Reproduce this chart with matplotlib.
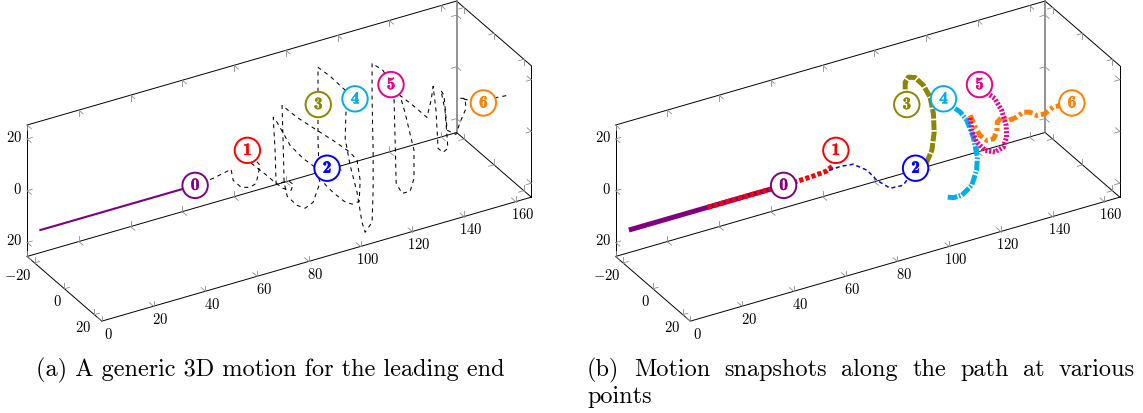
import numpy as np
import matplotlib.pyplot as plt
import matplotlib.patheffects as pe
from mpl_toolkits.mplot3d import proj3d

plt.rcParams['mathtext.fontset'] = 'cm'
plt.rcParams['lines.scale_dashes'] = False

W, H = 1143, 413

# axis box
x_lim = (0, 166)
y_lim = (-25, 25)
z_lim = (-25.4, 25.4)
x_ticks = [0, 20, 40, 60, 80, 100, 120, 140, 160]
y_ticks = [-20, 0, 20]
z_ticks = [-20, 0, 20]
x_tick_labels = ['0', '20', '40', '60', '80', '100', '120', '140', '160']
y_tick_labels = [r'$-20$', r'$0$', r'$20$']
z_tick_labels = [r'$20$', r'$0$', r'$20$']  # the minus is not printed in the original

# straight approach of the leading end (y = z = 0)
approach_x = [-9.3, 50.5]

# generic motion of the leading end (dashed), read in the y = 0 plane
path_x = [50.5, 57.5, 64.4, 65.2, 68.3, 71.8, 74.1, 75.6, 70.6, 72.2, 76.8, 81.4,
          84.5, 87.6, 88.4, 86.8, 81.8, 81.4, 80.7, 82.2, 87.2, 92.2, 96.9, 98.8,
          96.1, 93.0, 89.9, 86.1, 84.9, 84.5, 84.1, 89.9, 97.6, 103.8, 110.4, 113.1,
          114.3, 113.9, 111.2, 108.1, 103.8, 100.7, 98.4, 98.0, 98.0, 98.0, 102.7,
          107.7, 112.3, 108.8, 108.5, 110.4, 113.1, 115.0, 116.2, 118.9, 119.3, 119.3,
          118.9, 118.9, 123.1, 126.2, 127.4, 127.8, 128.2, 130.5, 133.6, 135.1, 135.1,
          131.6, 129.7, 134.7, 140.1, 141.7, 142.5, 143.6, 144.4, 146.3, 148.2, 147.1,
          145.5, 146.7, 147.9, 151.3, 152.9, 155.2, 154.8, 152.9, 161.8, 167.2, 171.4]
path_z = [0.0, 0.7, 2.2, -2.3, -5.9, -6.9, -6.0, 0.5, 7.7, 2.3, -2.6, -7.8,
          -11.0, -12.6, -10.5, -8.9, -8.3, 4.6, 17.6, 15.2, 4.9, -1.6, -6.4, -12.8,
          -19.7, -21.1, -19.1, -14.5, -8.8, 7.6, 21.2, 14.9, 7.7, 2.0, -4.5, -8.4,
          -16.5, -24.5, -24.8, -22.8, -18.1, -14.1, -8.0, 3.7, 17.6, 31.9, 27.1,
          21.0, 15.8, 11.4, 1.4, -9.5, -20.8, -32.9, -37.1, -34.0, -21.8, -6.3,
          13.1, 27.4, 23.5, 17.2, 10.7, -4.9, -21.6, -26.2, -26.3, -21.7, -10.9,
          4.8, 11.9, 6.6, 0.4, 6.5, 11.7, 2.1, -12.8, -14.9, -13.9, 1.1,
          9.3, 7.0, -6.8, -9.4, -5.2, -0.5, 3.5, 4.1, -0.4, 0.3, -0.1]

# labelled points 0..6
pt_names = ['0', '1', '2', '3', '4', '5', '6']
pt_x = [50.5, 70.7, 101.5, 98.1, 112.3, 126.2, 161.9]
pt_z = [0.0, 7.7, -8.1, 17.5, 15.6, 17.1, -0.3]
pt_colors = ['#800080', '#ff0000', '#0000ff', '#8c8700', '#00aeef', '#ec008c', '#ff8000']

# snapshots along the path (panel b)
red_x = [21.0, 50.5, 56.9, 62.7, 66.9, 69.3]
red_z = [0.0, 0.0, 0.1, 0.35, 0.7, 1.9]
blue_x = [68.1, 72.5, 77.4, 82.8, 86.6, 91.7, 96.7, 98.6, 101.6]
blue_z = [0.7, 1.0, 0.4, -3.5, -8.5, -13.0, -13.3, -11.2, -7.9]
olive_x = [101.6, 105.8, 107.8, 108.7, 108.4, 107.1, 104.5, 101.3, 98.7, 97.5, 97.5, 98.1]
olive_z = [-7.9, -7.0, -3.0, 3.8, 11.0, 17.8, 23.1, 27.0, 27.9, 26.3, 23.1, 18.1]
cyan_x = [112.2, 116.1, 118.7, 121.3, 123.8, 125.4, 125.1, 123.2, 119.4, 116.1, 113.3]
cyan_z = [15.3, 11.3, 8.7, 4.7, -2.5, -10.7, -15.7, -21.0, -23.7, -23.7, -22.6]
magenta_x = [126.1, 129.6, 132.2, 134.8, 136.5, 136.7, 135.4, 132.2, 128.4, 125.1, 123.2, 122.6]
magenta_z = [17.2, 12.6, 9.9, 4.6, -1.6, -6.2, -9.7, -10.7, -9.0, -4.8, 0.3, 5.6]
orange_x = [122.6, 124.5, 126.4, 129.0, 131.6, 132.9, 133.1, 134.8, 137.4, 140.6, 143.1,
            145.7, 148.3, 151.5, 154.7, 161.9]
orange_z = [6.3, 1.2, -2.6, -5.3, -5.4, -3.2, 0.6, 2.0, 0.0, 0.4, 1.6, 0.8, -1.2, -1.5, 0.2, -0.3]

fig = plt.figure(figsize=(W / 100, H / 100), dpi=100)


def make_axes(rect):
    ax = fig.add_axes(rect, projection='3d', proj_type='ortho')
    ax.set_xlim(*x_lim)
    ax.set_ylim(y_lim[1], y_lim[0])
    ax.set_zlim(*z_lim)
    ax.set_box_aspect((x_lim[1] - x_lim[0], y_lim[1] - y_lim[0], z_lim[1] - z_lim[0]))
    ax.view_init(elev=30, azim=-120)
    ax.set_axis_off()
    ax.patch.set_alpha(0)
    return ax


def draw_frame(ax):
    x0, x1 = x_lim
    y0, y1 = y_lim
    z0, z1 = z_lim
    edges = [((x0, x1), (y0, y0), (z0, z0)), ((x0, x1), (y0, y0), (z1, z1)),
             ((x0, x1), (y1, y1), (z0, z0)), ((x0, x0), (y0, y0), (z0, z1)),
             ((x0, x0), (y0, y1), (z0, z0)), ((x1, x1), (y0, y1), (z0, z0)),
             ((x1, x1), (y0, y1), (z1, z1)), ((x1, x1), (y1, y1), (z0, z1))]
    for xs, ys, zs in edges:
        ax.plot(xs, ys, zs, color='black', lw=0.7)
    ax.plot((x1, x1), (y0, y0), (z0, z1), color='0.5', lw=1.2)

    arm = {'x': 2.0, 'y': 2.8, 'z': 2.1}

    def chevrons(axis, ticks, fixed, dirs):
        for t in ticks:
            p = dict(fixed)
            p[axis] = t
            for d, s in dirs:
                q = dict(p)
                q[d] = p[d] + s * arm[d]
                ax.plot([p['x'], q['x']], [p['y'], q['y']], [p['z'], q['z']],
                        color='0.55', lw=0.6)

    chevrons('x', x_ticks, {'y': y0, 'z': z0}, [('y', 1), ('z', 1)])
    chevrons('x', x_ticks, {'y': y0, 'z': z1}, [('y', 1), ('z', -1)])
    chevrons('x', x_ticks, {'y': y1, 'z': z0}, [('y', -1), ('z', 1)])
    chevrons('y', y_ticks, {'x': x0, 'z': z0}, [('x', 1), ('z', 1)])
    chevrons('y', y_ticks, {'x': x1, 'z': z0}, [('x', -1), ('z', 1)])
    chevrons('y', y_ticks, {'x': x1, 'z': z1}, [('x', -1), ('z', -1)])
    chevrons('z', z_ticks, {'x': x0, 'y': y0}, [('x', 1), ('y', 1)])
    chevrons('z', z_ticks, {'x': x1, 'y': y0}, [('x', -1), ('y', 1)])
    chevrons('z', z_ticks, {'x': x1, 'y': y1}, [('x', -1), ('y', -1)])


ax_a = make_axes([0.0, 0.0, 0.5, 1.0])
ax_b = make_axes([0.5, 0.0, 0.5, 1.0])

# (a) generic motion
draw_frame(ax_a)
ax_a.plot(approach_x, [0, 0], [0, 0], color='#800080', lw=1.5)
ax_a.plot(path_x, np.zeros(len(path_x)), path_z, color='black', lw=0.75, dashes=(2.9, 2.9))

# (b) snapshots
draw_frame(ax_b)
ax_b.plot(approach_x, [0, 0], [0, 0], color='#800080', lw=3.6, solid_capstyle='butt')
ax_b.plot(red_x, np.zeros(len(red_x)), red_z, color='#ff0000', lw=3.6, dashes=(3.0, 1.6))
ax_b.plot(blue_x, np.zeros(len(blue_x)), blue_z, color='#0000ff', lw=1.1, dashes=(2.9, 2.2))
ax_b.plot(olive_x, np.zeros(len(olive_x)), olive_z, color=pt_colors[3], lw=3.6, dashes=(7, 1.2))
ax_b.plot(cyan_x, np.zeros(len(cyan_x)), cyan_z, color=pt_colors[4], lw=3.6,
          dashes=(7, 1.2, 1.2, 1.2))
ax_b.plot(orange_x, np.zeros(len(orange_x)), orange_z, color=pt_colors[6], lw=3.6,
          dashes=(6, 2.2, 2.2, 2.2))
ax_b.plot(magenta_x, np.zeros(len(magenta_x)), magenta_z, color=pt_colors[5], lw=3.6,
          dashes=(1.5, 1.2))

# place each box so that its corners land where they are in the original
fig.canvas.draw()


def fit_axes(ax, dx):
    corners = np.array([[x_lim[0], y_lim[0], z_lim[0]], [x_lim[1], y_lim[0], z_lim[1]],
                        [x_lim[1], y_lim[1], z_lim[0]], [x_lim[0], y_lim[1], z_lim[0]]])
    target = np.array([[26.7, 255.7], [456.7, 1.7], [531.7, 197.7], [101.7, 320.7]])
    target[:, 0] += dx
    target[:, 1] = H - target[:, 1]
    xs, ys, _ = proj3d.proj_transform(corners[:, 0], corners[:, 1], corners[:, 2], ax.get_proj())
    disp = ax.transData.transform(np.column_stack([xs, ys]))
    bb = ax.get_position().transformed(fig.transFigure)
    g = (disp - [bb.x0, bb.y0]) / bb.width
    A = np.zeros((8, 3))
    b = np.zeros(8)
    A[0::2, 0] = 1
    A[0::2, 2] = g[:, 0]
    b[0::2] = target[:, 0]
    A[1::2, 1] = 1
    A[1::2, 2] = g[:, 1]
    b[1::2] = target[:, 1]
    (x0, y0, L), *_ = np.linalg.lstsq(A, b, rcond=None)
    ax.set_position([x0 / W, y0 / H, L / W, L / H])


fit_axes(ax_a, 0)
fit_axes(ax_b, 588.5)
fig.canvas.draw()


def to_fig(ax, x, y, z):
    """3D data point -> figure fraction, through the axes' own projection."""
    xs, ys, _ = proj3d.proj_transform(np.atleast_1d(np.asarray(x, float)),
                                      np.atleast_1d(np.asarray(y, float)),
                                      np.atleast_1d(np.asarray(z, float)), ax.get_proj())
    d = ax.transData.transform(np.column_stack([xs, ys]))
    return d[:, 0] / W, d[:, 1] / H


def draw_texts(ax):
    n = len(x_ticks)
    fx, fy = to_fig(ax, x_ticks, [y_lim[1]] * n, [z_lim[0]] * n)
    for u, v, s in zip(fx, fy, x_tick_labels):
        fig.text(u + 6.7 / W, v - 12.9 / H, '$' + s + '$', ha='center', va='center',
                 fontsize=10.5)
    n = len(y_ticks)
    fx, fy = to_fig(ax, [x_lim[0]] * n, y_ticks, [z_lim[0]] * n)
    for u, v, s in zip(fx, fy, y_tick_labels):
        fig.text(u - 3.0 / W, v - 13.0 / H, s, ha='right', va='center', fontsize=10.5)
    n = len(z_ticks)
    fx, fy = to_fig(ax, [x_lim[0]] * n, [y_lim[0]] * n, z_ticks)
    for u, v, s in zip(fx, fy, z_tick_labels):
        fig.text(u - 5.0 / W, v + 1.5 / H, s, ha='right', va='center', fontsize=10.5)

    fx, fy = to_fig(ax, pt_x, [0] * len(pt_x), pt_z)
    for u, v, name, c in zip(fx, fy, pt_names, pt_colors):
        fig.text(u, v, name, color=c, fontsize=12.5, fontfamily='cmb10',
                 ha='center', va='center', zorder=20,
                 path_effects=[pe.withStroke(linewidth=0.3, foreground=c)],
                 bbox=dict(boxstyle='circle,pad=0.3', fc='white', ec=c, lw=1.4))


draw_texts(ax_a)
draw_texts(ax_b)

# captions
cap_size = 17.5
base1 = 1 - 376 / H
fig.text(36 / W, base1, '(a) A generic 3D motion for the leading end',
         fontfamily='cmr10', fontsize=cap_size, va='baseline')
cap_b_words = ['(b)', 'Motion', 'snapshots', 'along', 'the', 'path', 'at', 'various']
renderer = fig.canvas.get_renderer()
words = [fig.text(587 / W, base1, w, fontfamily='cmr10', fontsize=cap_size, va='baseline')
         for w in cap_b_words]
widths = [t.get_window_extent(renderer).width for t in words]
gap = (548 - sum(widths)) / (len(words) - 1)
xpos = 587
for t, w in zip(words, widths):
    t.set_x(xpos / W)
    xpos += w + gap
fig.text(587 / W, 1 - 403 / H, 'points', fontfamily='cmr10', fontsize=cap_size, va='baseline')

fig.savefig('out.png', dpi=100)
